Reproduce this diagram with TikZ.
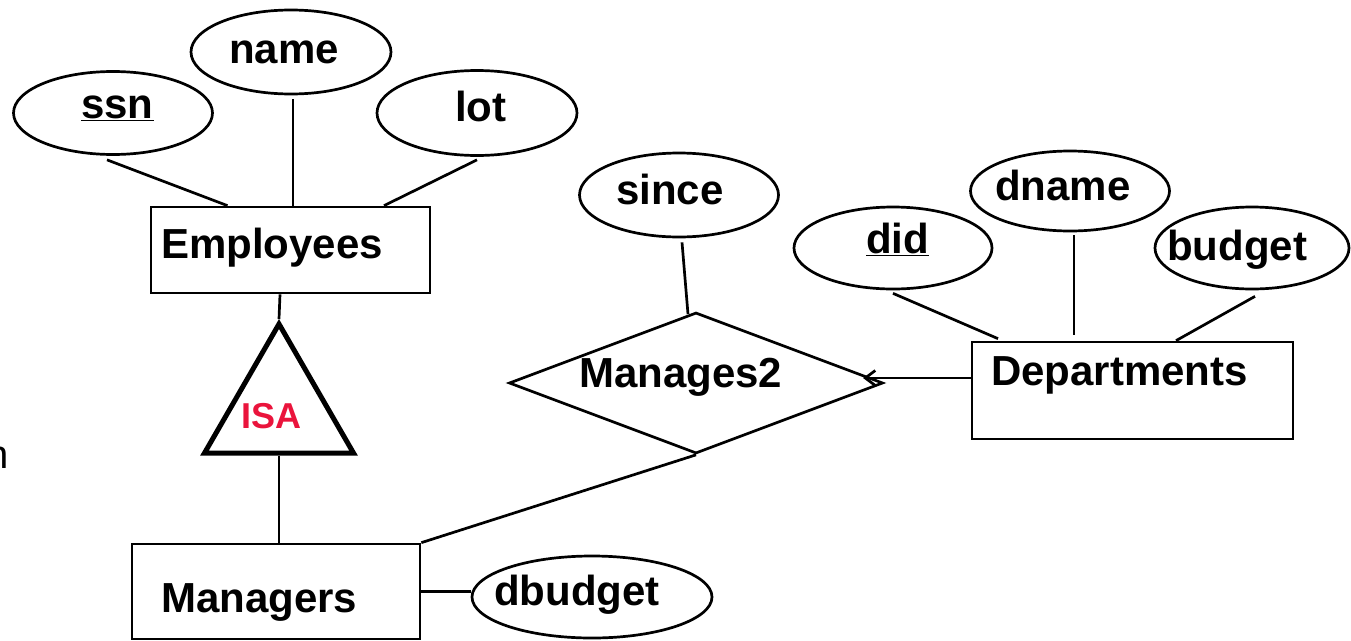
\documentclass[tikz,border=0pt]{standalone}
\usepackage{fontspec}
\setmainfont{Liberation Sans}
\usetikzlibrary{shapes.geometric,arrows.meta}
\definecolor{isared}{RGB}{234,20,60}
\tikzset{
  ent/.style={draw, line width=2.7pt, rectangle, inner sep=0pt},
  attr/.style={draw, line width=2.7pt, ellipse, inner sep=0pt},
  rel/.style={draw, line width=2.7pt, diamond, inner sep=0pt},
  lbl/.style={font=\fontsize{42}{50}\selectfont\bfseries, inner sep=0pt, anchor=base west},
  conn/.style={line width=2.7pt},
}
\begin{document}
\begin{tikzpicture}[x=1pt,y=-1pt]
\useasboundingbox (0,0) rectangle (1351,640);
% entities
\node[ent, minimum width=279pt, minimum height=86pt] (emp) at (290.5,250) {};
\node[ent, minimum width=288pt, minimum height=95pt] (mgr) at (276,591.5) {};
\node[ent, minimum width=321pt, minimum height=97pt] (dept) at (1132.5,390.5) {};
% relationship
\node[rel, minimum width=374pt, minimum height=141pt] (man2) at (696,383) {};
% ISA triangle
\node[draw, line width=5pt, regular polygon, regular polygon sides=3, minimum size=172pt, inner sep=0pt] (isa) at (279,410) {};
% attributes
\node[attr, minimum width=199pt, minimum height=83pt] (ssn) at (113,113) {};
\node[attr, minimum width=200pt, minimum height=84pt] (name) at (291,52) {};
\node[attr, minimum width=200pt, minimum height=85pt] (lot) at (477,113) {};
\node[attr, minimum width=199pt, minimum height=84pt] (since) at (679,195) {};
\node[attr, minimum width=198pt, minimum height=82pt] (did) at (893,248) {};
\node[attr, minimum width=199pt, minimum height=80pt] (dname) at (1070,191) {};
\node[attr, minimum width=194pt, minimum height=82pt] (budget) at (1252,248) {};
\node[attr, minimum width=240pt, minimum height=82pt] (dbudget) at (592,597) {};
% labels
\node[lbl] (temp) at (161,258) {Employees};
\node[lbl] (tmgr) at (161,612) {Managers};
\node[lbl] (tdept) at (991,385) {Departments};
\node[lbl] (tman2) at (579,387) {Manages2};
\node[lbl] (tssn) at (81,118) {\underline{ssn}};
\node[lbl] (tname) at (229,63) {name};
\node[lbl] (tlot) at (455,121) {lot};
\node[lbl] (tsince) at (616,204) {since};
\node[lbl] (tdid) at (866,253) {\underline{did}};
\node[lbl] (tdname) at (995,200) {dname};
\node[lbl] (tbudget) at (1167,260) {budget};
\node[lbl] (tdbudget) at (494,605) {dbudget};
\node[inner sep=0pt, anchor=base west, text=isared, font=\fontsize{36}{42}\selectfont\bfseries] (tisa) at (241,428) {ISA};
\node[inner sep=0pt, anchor=base east, font=\fontsize{40}{48}\selectfont] (tn) at (9,468) {n};
% connectors
\draw[conn] ([shift={(-6,4)}]ssn.south) -- ([shift={(-63,0)}]emp.north);
\draw[conn] ([shift={(2,4)}]name.south) -- ([shift={(2.5,0)}]emp.north);
\draw[conn] ([shift={(0,3)}]lot.south) -- ([shift={(93.5,0)}]emp.north);
\draw[conn] ([shift={(-10.5,0)}]emp.south) -- (isa.corner 1);
\draw[conn] (isa.side 2) -- (isa.side 2 |- mgr.north);
\draw[conn] (mgr.north east) -- (man2.south);
\draw[conn] (mgr.east) -- (mgr.east -| dbudget.west);
\draw[conn] ([shift={(3,4)}]since.south) -- ([shift={(-8,3)}]man2.north);
\coordinate (tip) at (863,378);
\draw[conn, -{Straight Barb[length=10pt,width=15pt]}] (dept.west |- tip) -- (tip);
\draw[conn] ([shift={(0,3)}]did.south) -- ([shift={(-134.5,-2)}]dept.north);
\draw[conn] ([shift={(4,3)}]dname.south) -- ([shift={(-58.5,-6)}]dept.north);
\draw[conn] ([shift={(3,6)}]budget.south) -- ([shift={(43.5,0)}]dept.north);
\end{tikzpicture}
\end{document}
